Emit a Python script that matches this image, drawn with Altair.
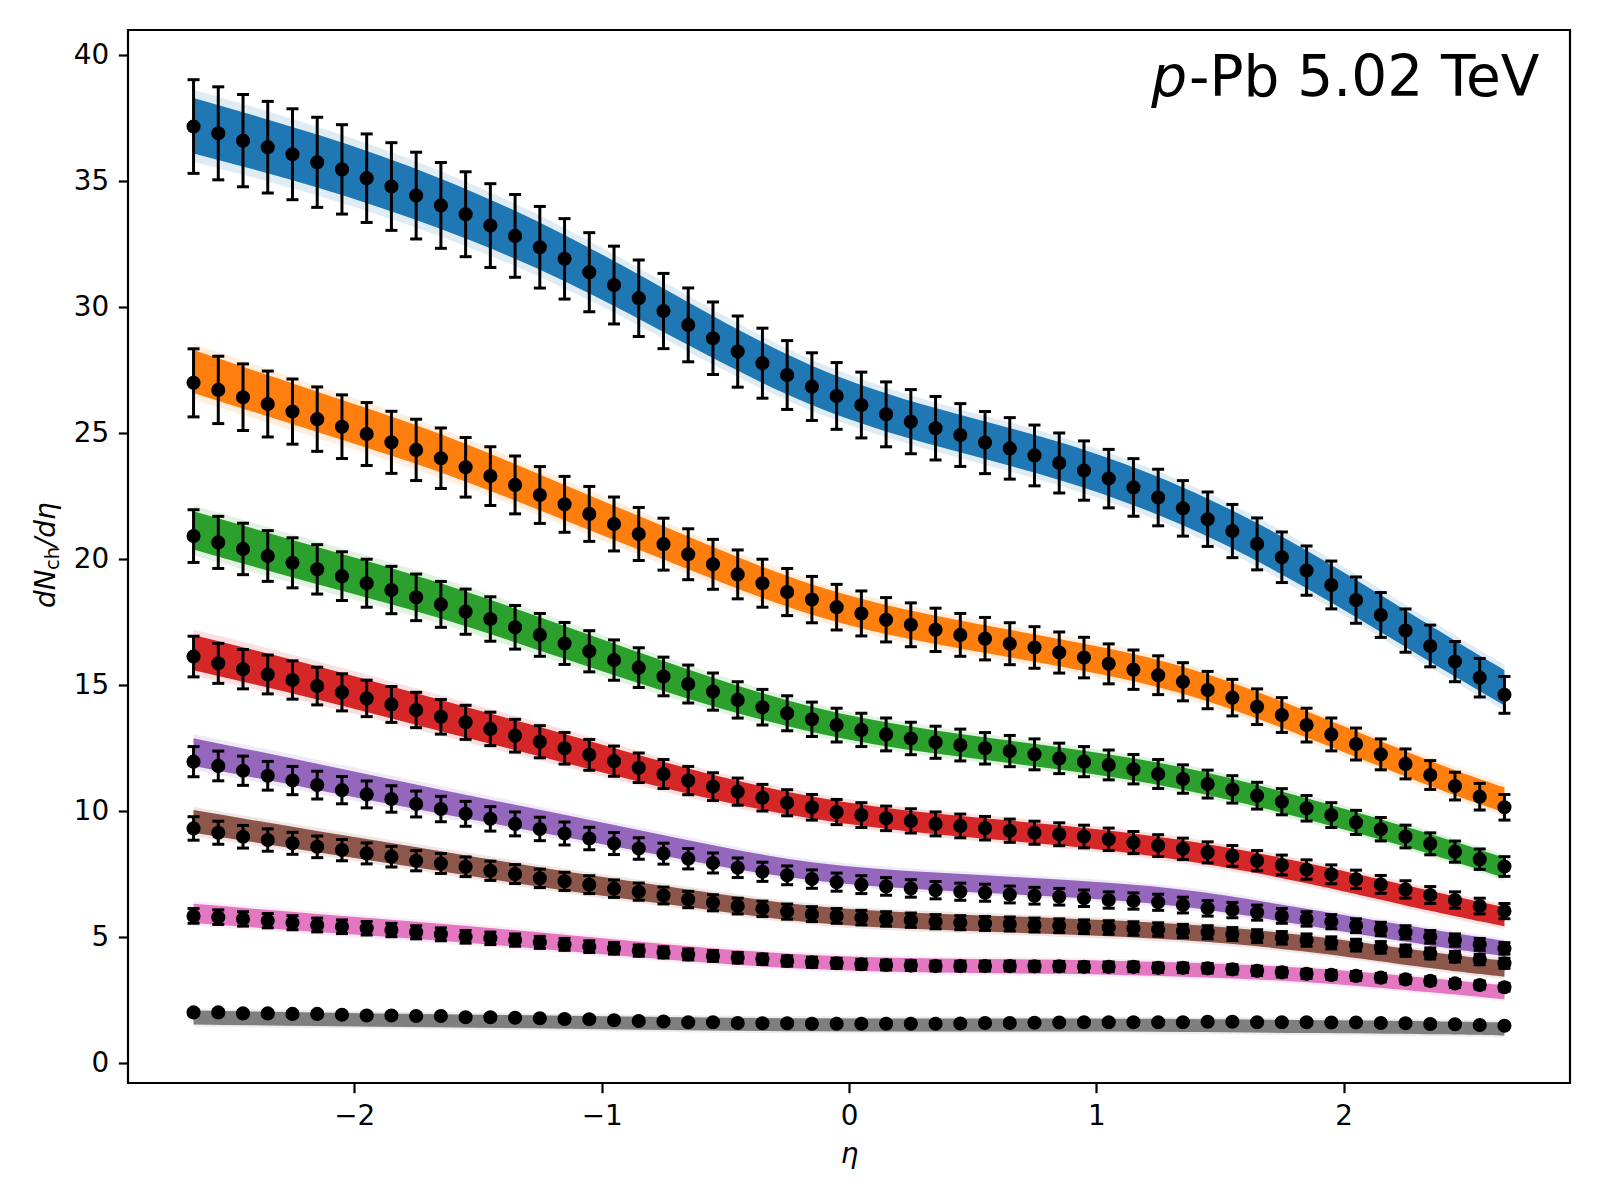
import altair as alt
import pandas as pd

# ---------------- data ----------------
ETA = [-2.65, -2.55, -2.45, -2.35, -2.25, -2.15, -2.05, -1.95, -1.85, -1.75,
       -1.65, -1.55, -1.45, -1.35, -1.25, -1.15, -1.05, -0.95, -0.85, -0.75,
       -0.65, -0.55, -0.45, -0.35, -0.25, -0.15, -0.05, 0.05, 0.15, 0.25,
       0.35, 0.45, 0.55, 0.65, 0.75, 0.85, 0.95, 1.05, 1.15, 1.25,
       1.35, 1.45, 1.55, 1.65, 1.75, 1.85, 1.95, 2.05, 2.15, 2.25,
       2.35, 2.45, 2.55, 2.65]

SERIES = ["class 1", "class 2", "class 3", "class 4",
          "class 5", "class 6", "class 7", "class 8"]
COLORS = ["#1f77b4", "#ff7f0e", "#2ca02c", "#d62728",
          "#9467bd", "#8c564b", "#e377c2", "#7f7f7f"]
REL_ERR = [0.05, 0.05, 0.05, 0.05, 0.05, 0.05, 0.05, 0.05]

DATA_1 = [37.17, 36.90, 36.61, 36.35, 36.07, 35.75, 35.47, 35.12, 34.79, 34.43,
          34.04, 33.69, 33.24, 32.83, 32.38, 31.92, 31.39, 30.88, 30.36, 29.85,
          29.30, 28.77, 28.24, 27.78, 27.31, 26.85, 26.48, 26.12, 25.75, 25.46,
          25.20, 24.93, 24.63, 24.40, 24.12, 23.82, 23.52, 23.20, 22.85, 22.45,
          22.02, 21.59, 21.12, 20.61, 20.08, 19.55, 18.98, 18.38, 17.79, 17.17,
          16.56, 15.94, 15.30, 14.62]
DATA_2 = [27.00, 26.72, 26.43, 26.16, 25.86, 25.56, 25.26, 24.97, 24.64, 24.34,
          24.01, 23.65, 23.30, 22.95, 22.55, 22.18, 21.80, 21.40, 21.00, 20.60,
          20.20, 19.80, 19.40, 19.05, 18.70, 18.40, 18.10, 17.85, 17.60, 17.40,
          17.20, 17.00, 16.85, 16.65, 16.50, 16.30, 16.10, 15.85, 15.62, 15.40,
          15.14, 14.81, 14.51, 14.15, 13.82, 13.42, 13.05, 12.67, 12.26, 11.88,
          11.44, 11.00, 10.58, 10.16]
DATA_3 = [20.92, 20.67, 20.41, 20.13, 19.86, 19.60, 19.33, 19.05, 18.78, 18.49,
          18.21, 17.92, 17.63, 17.30, 17.00, 16.66, 16.35, 16.00, 15.70, 15.35,
          15.05, 14.75, 14.42, 14.13, 13.89, 13.65, 13.42, 13.23, 13.05, 12.89,
          12.74, 12.63, 12.50, 12.39, 12.26, 12.10, 11.97, 11.84, 11.67, 11.48,
          11.28, 11.08, 10.87, 10.62, 10.38, 10.12, 9.85, 9.56, 9.29, 9.00,
          8.71, 8.40, 8.10, 7.81]
DATA_4 = [16.14, 15.87, 15.64, 15.43, 15.21, 14.97, 14.72, 14.48, 14.24, 14.02,
          13.75, 13.53, 13.27, 13.00, 12.76, 12.50, 12.24, 11.99, 11.73, 11.48,
          11.22, 10.98, 10.78, 10.54, 10.34, 10.16, 9.97, 9.85, 9.72, 9.62,
          9.50, 9.42, 9.33, 9.23, 9.15, 9.09, 9.00, 8.89, 8.76, 8.64,
          8.51, 8.37, 8.23, 8.04, 7.87, 7.69, 7.50, 7.30, 7.10, 6.90,
          6.68, 6.48, 6.24, 6.04]
DATA_5 = [11.97, 11.80, 11.61, 11.41, 11.22, 11.04, 10.84, 10.67, 10.49, 10.29,
          10.09, 9.90, 9.70, 9.50, 9.30, 9.12, 8.92, 8.72, 8.52, 8.32,
          8.12, 7.95, 7.76, 7.60, 7.46, 7.31, 7.19, 7.09, 7.02, 6.94,
          6.87, 6.81, 6.77, 6.70, 6.65, 6.61, 6.55, 6.48, 6.44, 6.39,
          6.28, 6.15, 6.08, 5.98, 5.85, 5.73, 5.62, 5.46, 5.33, 5.20,
          5.02, 4.89, 4.72, 4.56]
DATA_6 = [9.32, 9.15, 8.99, 8.86, 8.73, 8.59, 8.46, 8.33, 8.20, 8.04,
          7.93, 7.80, 7.64, 7.51, 7.34, 7.22, 7.09, 6.93, 6.81, 6.66,
          6.50, 6.37, 6.24, 6.13, 6.02, 5.92, 5.85, 5.78, 5.73, 5.68,
          5.62, 5.58, 5.55, 5.53, 5.49, 5.46, 5.42, 5.39, 5.35, 5.31,
          5.25, 5.20, 5.13, 5.05, 4.98, 4.89, 4.78, 4.69, 4.60, 4.47,
          4.36, 4.23, 4.12, 3.97]
DATA_7 = [5.85, 5.80, 5.73, 5.66, 5.58, 5.49, 5.42, 5.36, 5.29, 5.20,
          5.12, 5.02, 4.96, 4.89, 4.80, 4.72, 4.63, 4.56, 4.47, 4.40,
          4.32, 4.26, 4.19, 4.13, 4.06, 4.01, 3.97, 3.93, 3.90, 3.88,
          3.86, 3.86, 3.86, 3.86, 3.85, 3.85, 3.83, 3.83, 3.83, 3.79,
          3.79, 3.77, 3.73, 3.67, 3.61, 3.55, 3.51, 3.47, 3.40, 3.33,
          3.27, 3.17, 3.11, 3.02]
DATA_8 = [2.02, 2.02, 1.98, 1.98, 1.96, 1.96, 1.93, 1.90, 1.90, 1.88,
          1.88, 1.83, 1.83, 1.81, 1.79, 1.76, 1.75, 1.71, 1.68, 1.66,
          1.63, 1.63, 1.60, 1.59, 1.59, 1.57, 1.57, 1.57, 1.57, 1.57,
          1.57, 1.58, 1.60, 1.60, 1.61, 1.62, 1.63, 1.63, 1.63, 1.63,
          1.63, 1.65, 1.65, 1.63, 1.63, 1.63, 1.62, 1.62, 1.60, 1.59,
          1.56, 1.55, 1.52, 1.49]

# model band (ensemble of curves): centre and half-width read at nodes
BAND_ETA = [-2.65, -2.15, -1.65, -1.15, -0.65, -0.15, 0.35, 0.85, 1.35, 1.85, 2.35, 2.65]
BAND_MID_1 = [37.20, 35.80, 34.10, 31.95, 29.35, 26.90, 25.25, 23.90, 22.10, 19.60, 16.65, 14.90]
BAND_MID_2 = [27.45, 25.85, 24.20, 22.25, 20.25, 18.40, 17.20, 16.30, 15.20, 13.45, 11.50, 10.45]
BAND_MID_3 = [21.15, 19.75, 18.35, 16.70, 15.05, 13.65, 12.75, 12.10, 11.30, 10.10, 8.70, 7.75]
BAND_MID_4 = [16.30, 15.10, 13.80, 12.50, 11.20, 10.15, 9.50, 9.05, 8.45, 7.55, 6.45, 5.82]
BAND_MID_5 = [12.35, 11.37, 10.38, 9.42, 8.45, 7.62, 7.22, 6.95, 6.55, 5.80, 5.00, 4.56]
BAND_MID_6 = [9.60, 8.80, 8.02, 7.24, 6.55, 5.92, 5.62, 5.44, 5.20, 4.75, 4.10, 3.76]
BAND_MID_7 = [5.95, 5.57, 5.20, 4.78, 4.35, 4.02, 3.88, 3.83, 3.72, 3.50, 3.10, 2.82]
BAND_MID_8 = [1.82, 1.75, 1.69, 1.63, 1.57, 1.53, 1.52, 1.52, 1.50, 1.46, 1.41, 1.36]

BAND_HW_1 = [1.10, 1.05, 1.00, 0.92, 0.85, 0.78, 0.75, 0.75, 0.75, 0.75, 0.72, 0.70]
BAND_HW_2 = [0.85, 0.80, 0.76, 0.70, 0.65, 0.60, 0.56, 0.54, 0.54, 0.52, 0.50, 0.50]
BAND_HW_3 = [0.76, 0.74, 0.70, 0.65, 0.58, 0.50, 0.46, 0.44, 0.44, 0.42, 0.40, 0.40]
BAND_HW_4 = [0.70, 0.66, 0.62, 0.57, 0.50, 0.44, 0.41, 0.40, 0.40, 0.40, 0.40, 0.38]
BAND_HW_5 = [0.55, 0.52, 0.48, 0.44, 0.40, 0.36, 0.35, 0.34, 0.34, 0.33, 0.32, 0.30]
BAND_HW_6 = [0.45, 0.42, 0.40, 0.38, 0.35, 0.33, 0.32, 0.32, 0.32, 0.32, 0.32, 0.32]
BAND_HW_7 = [0.38, 0.36, 0.34, 0.32, 0.30, 0.28, 0.28, 0.28, 0.28, 0.28, 0.28, 0.28]
BAND_HW_8 = [0.28, 0.27, 0.26, 0.26, 0.26, 0.26, 0.26, 0.26, 0.26, 0.26, 0.26, 0.26]

X_TICKS = [-2, -1, 0, 1, 2]
Y_TICKS = [0, 5, 10, 15, 20, 25, 30, 35, 40]

DATA = [DATA_1, DATA_2, DATA_3, DATA_4, DATA_5, DATA_6, DATA_7, DATA_8]
BAND_MID = [BAND_MID_1, BAND_MID_2, BAND_MID_3, BAND_MID_4,
            BAND_MID_5, BAND_MID_6, BAND_MID_7, BAND_MID_8]
BAND_HW = [BAND_HW_1, BAND_HW_2, BAND_HW_3, BAND_HW_4,
           BAND_HW_5, BAND_HW_6, BAND_HW_7, BAND_HW_8]

# ---------------- tables ----------------
prow = []
for s, vals, r in zip(SERIES, DATA, REL_ERR):
    for e, v in zip(ETA, vals):
        prow.append({"series": s, "eta": e, "val": v,
                     "lo": v * (1 - r), "hi": v * (1 + r)})
points = pd.DataFrame(prow)

brow = []
for s, mids, hws in zip(SERIES, BAND_MID, BAND_HW):
    for e, m, h in zip(BAND_ETA, mids, hws):
        brow.append({"series": s, "eta": e,
                     "lo": m - h, "hi": m + h,
                     "lo2": m - 1.3 * h, "hi2": m + 1.3 * h})
band = pd.DataFrame(brow)

# ---------------- encodings ----------------
FONT = "DejaVu Sans"
xs = alt.Scale(domain=[-2.915, 2.915], nice=False, zero=False)
ys = alt.Scale(domain=[-0.78, 41.0], nice=False, zero=False)
xaxis = alt.Axis(values=X_TICKS, format="d", title="η")
yaxis = alt.Axis(values=Y_TICKS, format="d", title=None)
col = alt.Color("series:N", scale=alt.Scale(domain=SERIES, range=COLORS), legend=None)


def X():
    return alt.X("eta:Q", scale=xs, axis=xaxis)


def Y(field):
    return alt.Y(field, type="quantitative", scale=ys, axis=yaxis)


halo = alt.Chart(band).mark_area(interpolate="natural", opacity=0.14).encode(
    x=X(), y=Y("lo2"), y2="hi2:Q", color=col)
core = alt.Chart(band).mark_area(interpolate="natural", opacity=1.0).encode(
    x=X(), y=Y("lo"), y2="hi:Q", color=col)

rules = alt.Chart(points).mark_rule(color="black", strokeWidth=3).encode(
    x=X(), y=Y("lo"), y2="hi:Q")
cap_lo = alt.Chart(points).mark_tick(color="black", orient="horizontal",
                                     size=12, thickness=3, opacity=1).encode(
    x=X(), y=Y("lo"))
cap_hi = alt.Chart(points).mark_tick(color="black", orient="horizontal",
                                     size=12, thickness=3, opacity=1).encode(
    x=X(), y=Y("hi"))
pts = alt.Chart(points).mark_circle(color="black", size=200, opacity=1).encode(
    x=X(), y=Y("val"))


def label(txt, x, y, size, style="normal", align="left"):
    return alt.Chart(pd.DataFrame({"t": [txt]})).mark_text(
        font=FONT, fontSize=size, fontStyle=style, align=align,
        baseline="alphabetic", color="black").encode(
        text="t:N", x=alt.value(x), y=alt.value(y))


def vlabel(txt, x, y, size, style="normal"):
    return alt.Chart(pd.DataFrame({"t": [txt]})).mark_text(
        font=FONT, fontSize=size, fontStyle=style, align="left",
        baseline="alphabetic", angle=270, color="black").encode(
        text="t:N", x=alt.value(x), y=alt.value(y))


title_p = label("p", 1059, 66, 56.5, style="italic", align="right")
title_rest = label("-Pb 5.02 TeV", 1061, 66, 56.5)

ytitle_a = vlabel("dN", -73, 578, 27.8, style="italic")
ytitle_b = vlabel("ch", -69, 540, 19.5)
ytitle_c = vlabel("/dη", -73, 517, 27.8, style="italic")

chart = alt.layer(
    halo, core, rules, cap_lo, cap_hi, pts,
    title_p, title_rest, ytitle_a, ytitle_b, ytitle_c
).properties(
    width=1442, height=1053,
    padding={"left": 120, "top": 22, "right": 22, "bottom": 100},
    autosize=alt.AutoSizeParams(type="none"),
    background="white",
).configure_view(
    stroke="black", strokeWidth=2.2
).configure_axis(
    grid=False, domain=False,
    labelFont=FONT, labelFontSize=27.8, labelColor="black",
    labelPadding=9.7,
    tickColor="black", tickWidth=2.2, tickSize=9.7,
    titleFont=FONT, titleFontSize=27.8, titleFontStyle="italic",
    titleFontWeight="normal", titleColor="black", titlePadding=10,
)

chart.save("out.html", embed_options={"renderer": "svg", "actions": False})
